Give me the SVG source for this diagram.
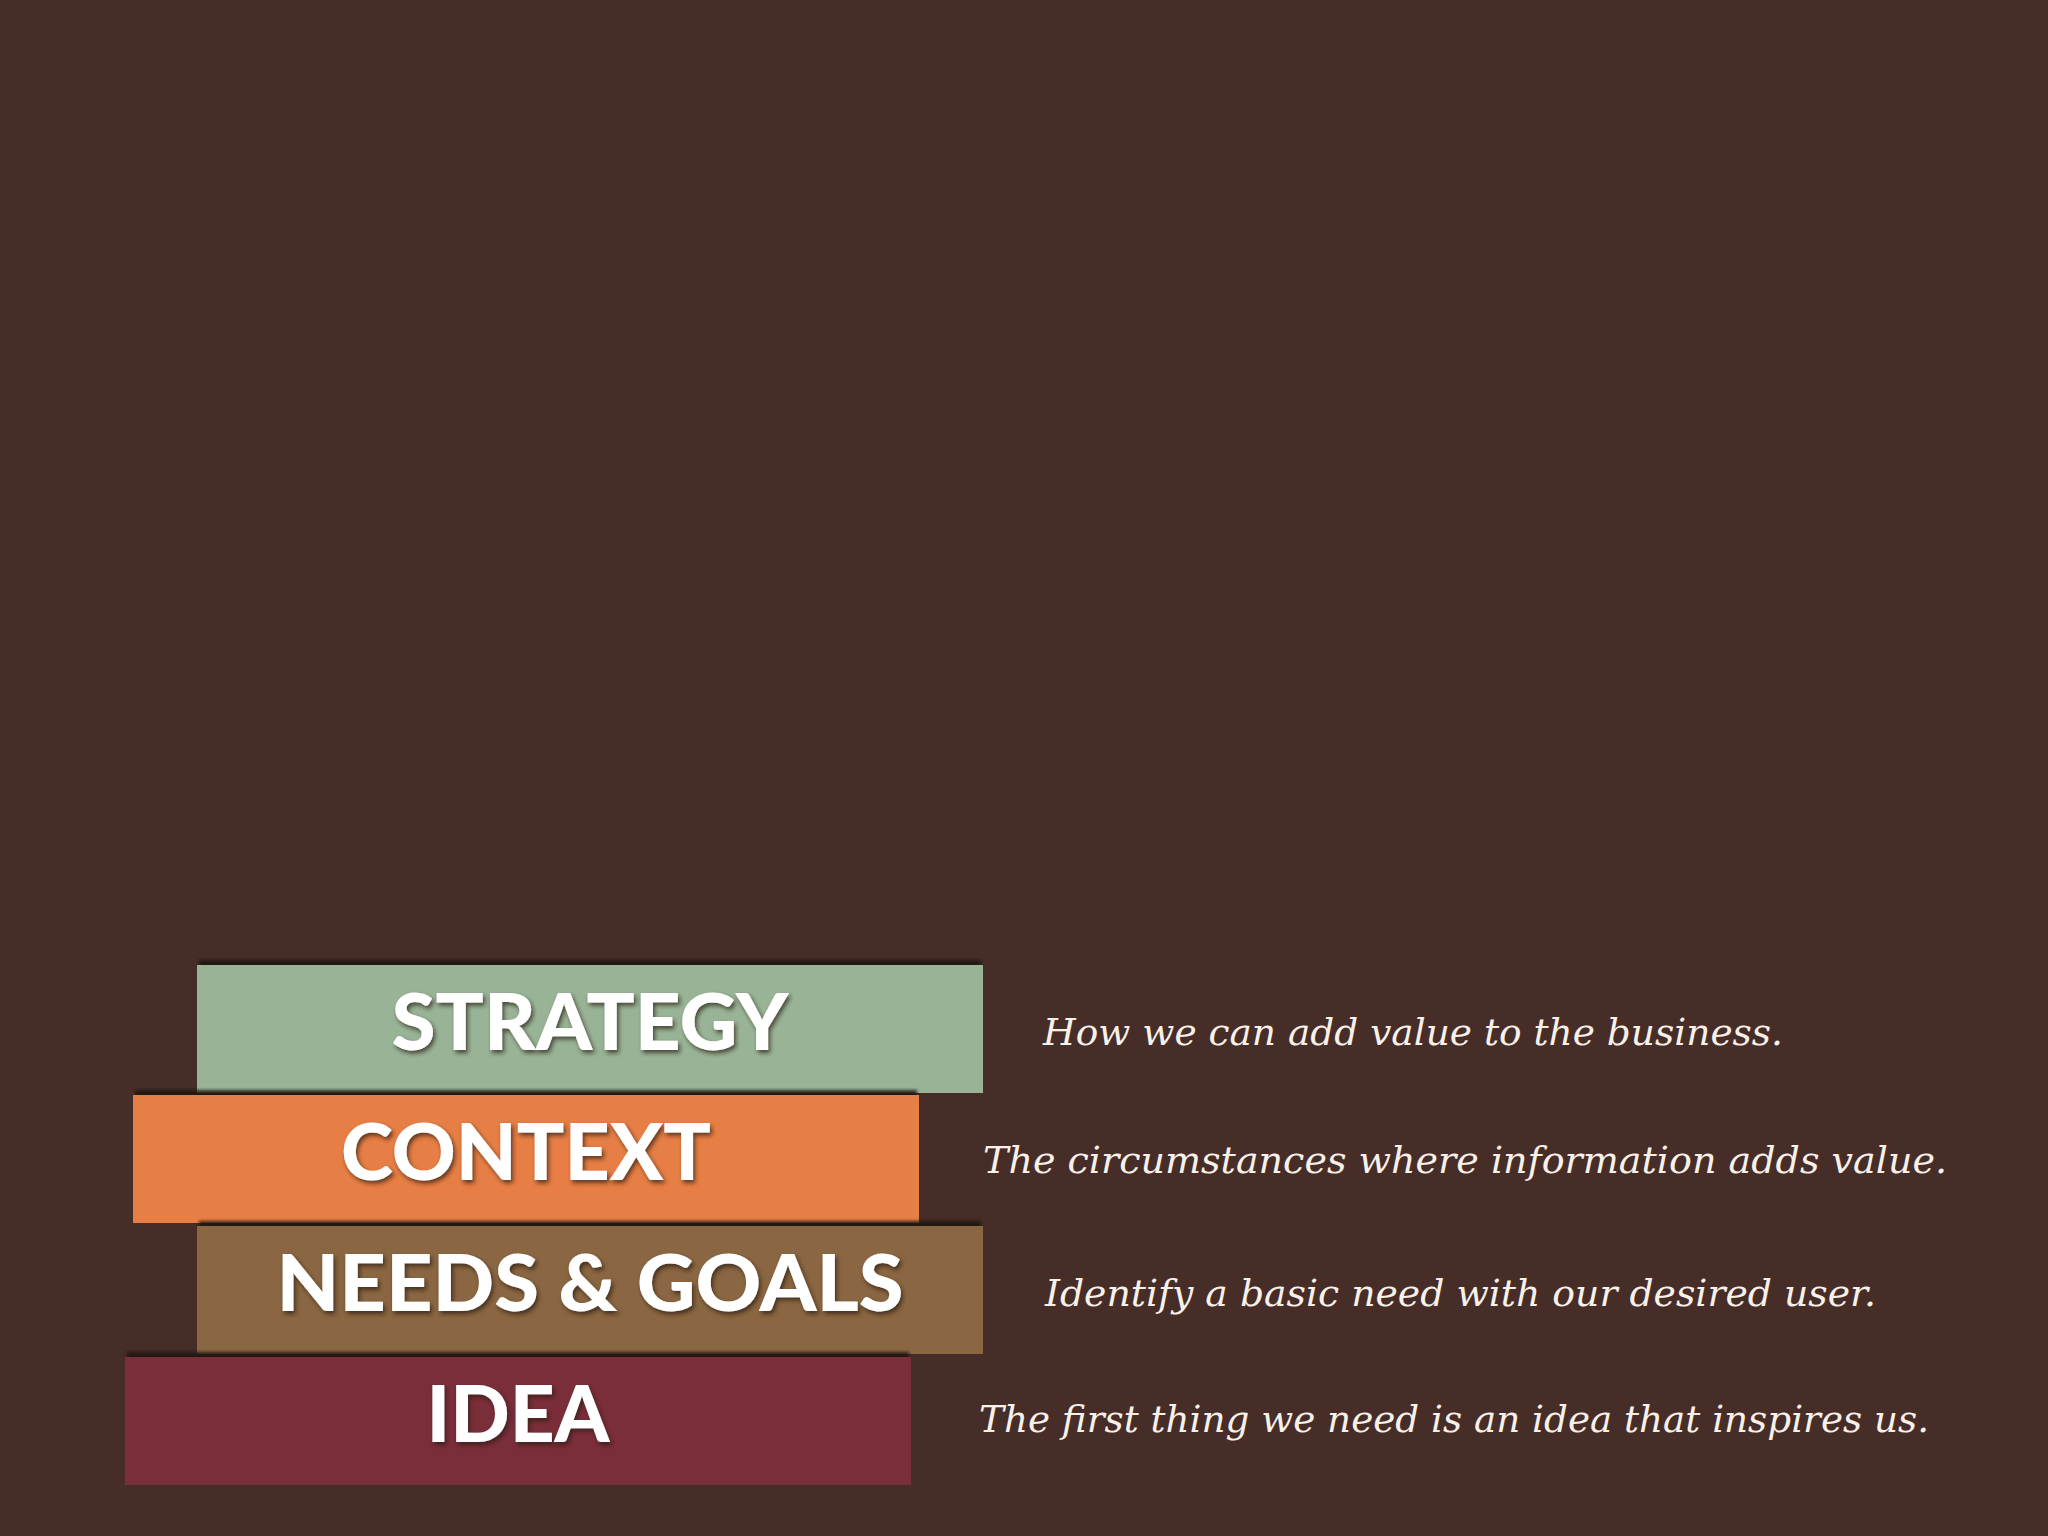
<svg xmlns="http://www.w3.org/2000/svg" width="2048" height="1536" viewBox="0 0 2048 1536">
<defs>
<filter id="blur" x="-5%" y="-100%" width="110%" height="300%">
<feGaussianBlur stdDeviation="1.5"/>
</filter>
<filter id="textShadow" x="-5%" y="-20%" width="110%" height="140%">
<feDropShadow dx="2" dy="3" stdDeviation="2" flood-color="#2a1a16" flood-opacity="0.7"/>
</filter>
</defs>
<style>
.label{font-family:"Lato","Liberation Sans",sans-serif;font-weight:900;font-size:78px;fill:#ffffff;text-anchor:middle;filter:url(#textShadow);}
.desc{font-family:"DejaVu Serif","Liberation Serif",serif;font-style:italic;font-size:38px;fill:#f7f1ea;}
.shade{fill:#1e1210;opacity:0.85;filter:url(#blur);}
</style>
<rect width="2048" height="1536" fill="#472d27"/>
<g id="strategy">
<rect class="shade" x="199" y="960" width="782" height="7"/>
<rect x="197" y="965" width="786" height="128" fill="#98b396"/>
<text class="label" x="590" y="1050" textLength="397" lengthAdjust="spacingAndGlyphs">STRATEGY</text>
</g>
<g id="context">
<rect class="shade" x="135" y="1090" width="782" height="7"/>
<rect x="133" y="1095" width="786" height="128" fill="#e67e45"/>
<text class="label" x="526" y="1180" textLength="370" lengthAdjust="spacingAndGlyphs">CONTEXT</text>
</g>
<g id="needs-goals">
<rect class="shade" x="199" y="1221" width="782" height="7"/>
<rect x="197" y="1226" width="786" height="128" fill="#8a6642"/>
<text class="label" x="590" y="1311" textLength="627" lengthAdjust="spacingAndGlyphs">NEEDS &amp; GOALS</text>
</g>
<g id="idea">
<rect class="shade" x="127" y="1352" width="782" height="7"/>
<rect x="125" y="1357" width="786" height="128" fill="#7a2e3a"/>
<text class="label" x="518" y="1442" textLength="183" lengthAdjust="spacingAndGlyphs">IDEA</text>
</g>
<g id="descriptions">
<text class="desc" x="1043" y="1045" textLength="740" lengthAdjust="spacingAndGlyphs">How we can add value to the business.</text>
<text class="desc" x="983" y="1173" textLength="964" lengthAdjust="spacingAndGlyphs">The circumstances where information adds value.</text>
<text class="desc" x="1045" y="1306" textLength="831" lengthAdjust="spacingAndGlyphs">Identify a basic need with our desired user.</text>
<text class="desc" x="979" y="1432" textLength="950" lengthAdjust="spacingAndGlyphs">The first thing we need is an idea that inspires us.</text>
</g>
<g id="connectors"/>
</svg>
